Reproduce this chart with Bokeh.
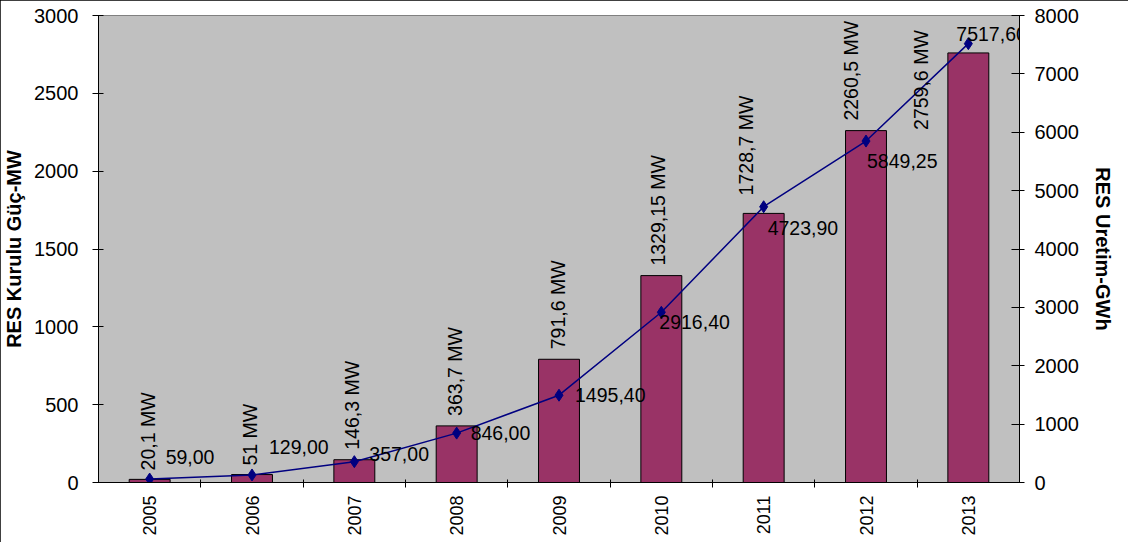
import math
from bokeh.plotting import figure
from bokeh.models import (ColumnDataSource, Range1d, LinearAxis, FixedTicker, LabelSet)
from bokeh.core.properties import value
from bokeh.embed import file_html
from bokeh.resources import INLINE

# ---- data ----
years = ["2005", "2006", "2007", "2008", "2009", "2010", "2011", "2012", "2013"]
capacity_mw = [20.1, 51, 146.3, 363.7, 791.6, 1329.15, 1728.7, 2260.5, 2759.6]
capacity_labels = ["20,1 MW", "51 MW", "146,3 MW", "363,7 MW", "791,6 MW",
                   "1329,15 MW", "1728,7 MW", "2260,5 MW", "2759,6 MW"]
production_gwh = [59.00, 129.00, 357.00, 846.00, 1495.40, 2916.40, 4723.90, 5849.25, 7517.60]
production_labels = ["59,00", "129,00", "357,00", "846,00", "1495,40",
                     "2916,40", "4723,90", "5849,25", "7517,60"]
left_ticks = [0, 500, 1000, 1500, 2000, 2500, 3000]
right_ticks = [0, 1000, 2000, 3000, 4000, 5000, 6000, 7000, 8000]

# label placement (screen pixels), layout only
bar_lbl_dx = [-2, -2, -2, -2, -1, -3, -18, -15, -47]
bar_lbl_dy = [9, 9, 10, 10, 10, 10, 18, 10, -77]   # up from bar top
line_lbl_dx = [16, 17, 15, 14, 16, -2, 4, 1, -12]
line_lbl_dy = [22, 28, 8, 0, 0, -10, -21, -20, 10]  # up from point

xs = [i + 1 for i in range(len(years))]

FONT = "Liberation Sans"

p = figure(width=1128, height=542, output_backend="svg", toolbar_location=None,
           x_range=Range1d(0.5, len(years) + 0.5), y_range=Range1d(0, 3000),
           min_border_left=98, min_border_right=109, min_border_top=15,
           min_border_bottom=60)
p.styles = {"outline": "2px solid black", "outline-offset": "-2px"}
p.background_fill_color = "#C0C0C0"
p.border_fill_color = "white"
p.outline_line_color = "#808080"
p.xgrid.visible = False
p.ygrid.visible = False

p.extra_y_ranges = {"y2": Range1d(0, 8000)}

bar_src = ColumnDataSource(dict(x=xs, top=capacity_mw, lbl=capacity_labels,
                                dx=bar_lbl_dx, dy=bar_lbl_dy))
p.vbar(x="x", top="top", width=0.4, bottom=0, source=bar_src,
       fill_color="#993366", line_color="black", line_width=1)

line_src = ColumnDataSource(dict(x=xs, y=production_gwh, lbl=production_labels,
                                 dx=line_lbl_dx, dy=line_lbl_dy))
p.line(x="x", y="y", source=line_src, y_range_name="y2", line_color="#000080", line_width=1.5)
p.scatter(x="x", y="y", source=line_src, y_range_name="y2", marker="diamond", size=12,
          fill_color="#000080", line_color="#000080")

bar_labels = LabelSet(x="x", y="top", text="lbl", source=bar_src, angle=math.pi / 2,
                      x_offset="dx", y_offset="dy", text_align="left", text_baseline="middle",
                      text_font=value(FONT), text_font_size="19.5px", text_color="black")
p.add_layout(bar_labels)
line_labels = LabelSet(x="x", y="y", text="lbl", source=line_src, y_range_name="y2",
                       x_offset="dx", y_offset="dy", text_align="left", text_baseline="middle",
                       text_font=value(FONT), text_font_size="19.5px", text_color="black",
                       level="overlay")
p.add_layout(line_labels)

# x axis: labels at centers, ticks at boundaries
xa = p.xaxis[0]
xa.ticker = FixedTicker(ticks=xs, minor_ticks=[x + 0.5 for x in xs[:-1]])
xa.major_label_overrides = {x: y for x, y in zip(xs, years)}
xa.major_label_orientation = math.pi / 2
xa.major_tick_in = 0
xa.major_tick_out = 0
xa.minor_tick_in = 3
xa.minor_tick_out = 5
xa.minor_tick_line_color = "black"
xa.major_label_standoff = 8
xa.major_label_text_font = FONT
xa.major_label_text_font_size = "18px"
xa.major_label_text_color = "black"
xa.axis_line_color = "black"

ya = p.yaxis[0]
ya.ticker = FixedTicker(ticks=left_ticks)
ya.minor_tick_line_color = None
ya.major_tick_in = 5
ya.major_tick_out = 6
ya.major_tick_line_color = "black"
ya.axis_line_color = "black"
ya.major_label_standoff = 14
ya.major_label_text_font = FONT
ya.major_label_text_font_size = "20px"
ya.major_label_text_color = "black"
ya.axis_label = "RES Kurulu Güç-MW"
ya.axis_label_text_font = FONT
ya.axis_label_text_font_style = "bold"
ya.axis_label_text_font_size = "20px"
ya.axis_label_text_color = "black"
ya.axis_label_standoff = 6

ra = LinearAxis(y_range_name="y2", ticker=FixedTicker(ticks=right_ticks))
ra.minor_tick_line_color = None
ra.major_tick_in = 8
ra.major_tick_out = 5
ra.major_tick_line_color = "black"
ra.axis_line_color = "black"
ra.major_label_standoff = 10
ra.major_label_text_font = FONT
ra.major_label_text_font_size = "20px"
ra.major_label_text_color = "black"
ra.axis_label = "RES Uretim-GWh"
ra.axis_label_text_font = FONT
ra.axis_label_text_font_style = "bold"
ra.axis_label_text_font_size = "20px"
ra.axis_label_text_color = "black"
ra.axis_label_standoff = 10
p.add_layout(ra, "right")

open("out.html", "w").write(file_html(p, INLINE))
